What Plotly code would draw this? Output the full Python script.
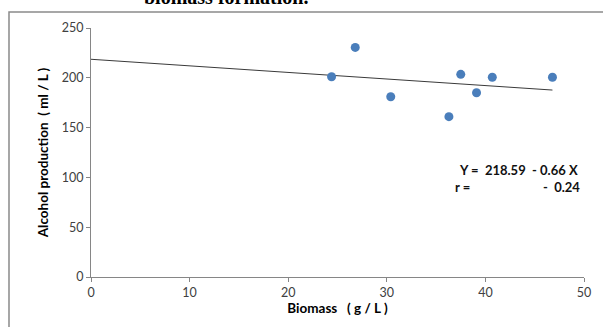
import plotly.graph_objects as go

biomass = [24.4, 26.8, 30.4, 36.3, 37.5, 39.1, 40.7, 46.8]
alcohol = [201, 230.5, 181, 161, 203.5, 185, 200.5, 200.5]
intercept = 218.59
slope = -0.66
x_ticks = [0, 10, 20, 30, 40, 50]
y_ticks = [0, 50, 100, 150, 200, 250]

W, H = 603, 327
L, R, T, B = 91, 13, 28, 50
pw, ph = W - L - R, H - T - B

def px(x):
    return (x - L) / pw

def py(y):
    return (H - B - y) / ph

fig = go.Figure()
xs_line = [0, max(biomass)]
fig.add_trace(go.Scatter(x=xs_line, y=[intercept + slope * v for v in xs_line],
                         mode="lines", line=dict(color="#3a3a3a", width=1), hoverinfo="skip"))
fig.add_trace(go.Scatter(x=biomass, y=alcohol, mode="markers",
                         marker=dict(color="#4a7ebb", size=9, line=dict(width=0))))

axis_common = dict(showgrid=False, zeroline=False, showline=True, linecolor="#868686", linewidth=1,
                   ticks="outside", ticklen=4, tickcolor="#868686",
                   tickfont=dict(family="Lato, Open Sans, sans-serif", size=12.5, color="#404040"))
fig.update_xaxes(range=[0, 50], tickvals=x_ticks, **axis_common,
                 title=dict(text="<b>Biomass   ( g / L )</b>", font=dict(family="Lato, sans-serif", size=13.5, color="#000"), standoff=3))
fig.update_yaxes(range=[0, 250], tickvals=y_ticks, **axis_common,
                 title=dict(text="<b>Alcohol production  ( ml / L )</b>", font=dict(family="Lato, sans-serif", size=13.5, color="#000"), standoff=10))

fig.add_shape(type="rect", xref="paper", yref="paper", x0=px(8), x1=px(620), y0=py(345), y1=py(12),
              line=dict(color="#8a8a8a", width=1.5), fillcolor="rgba(0,0,0,0)", layer="below")

fig.add_annotation(xref="paper", yref="paper", x=px(228), y=py(-3), text="<b>biomass formation.</b>",
                   showarrow=False, xanchor="center", yanchor="middle",
                   font=dict(family="Liberation Serif, serif", size=20, color="#000"))
fig.add_annotation(xref="paper", yref="paper", x=px(461), y=py(170),
                   text="<b>Y =  218.59  - 0.66 X</b>", showarrow=False, xanchor="left", yanchor="middle",
                   font=dict(family="Lato, sans-serif", size=13, color="#111"))
fig.add_annotation(xref="paper", yref="paper", x=px(457), y=py(187),
                   text="<b>r =</b>", showarrow=False, xanchor="left", yanchor="middle",
                   font=dict(family="Lato, sans-serif", size=13, color="#111"))
fig.add_annotation(xref="paper", yref="paper", x=px(588), y=py(187),
                   text="<b>-  0.24</b>", showarrow=False, xanchor="right", yanchor="middle",
                   font=dict(family="Lato, sans-serif", size=13, color="#111"))

fig.update_layout(width=W, height=H, margin=dict(l=L, r=R, t=T, b=B), showlegend=False,
                  plot_bgcolor="white", paper_bgcolor="white")
fig.write_html("out.html")
